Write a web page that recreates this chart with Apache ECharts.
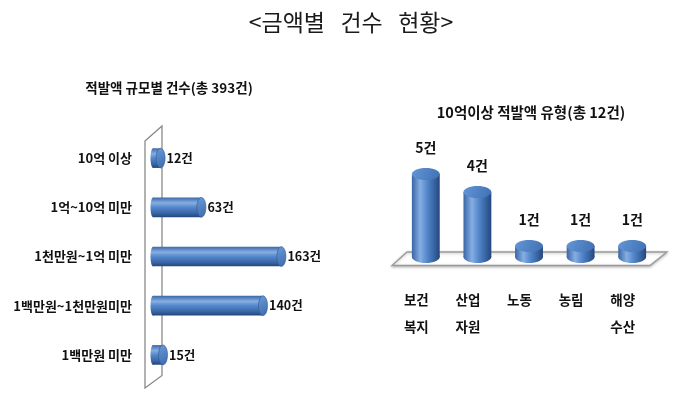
<!DOCTYPE html>
<html>
<head>
<meta charset="utf-8">
<script src="https://cdn.jsdelivr.net/npm/echarts@6/dist/echarts.min.js"></script>
<style>
  html, body { margin: 0; padding: 0; background: #fff; }
  #chart { width: 680px; height: 394px; }
</style>
</head>
<body>
<div id="chart"></div>
<script>
// ---- data ----
const mainTitle = '<금액별   건수   현황>';
const leftTitle = '적발액 규모별 건수(총 393건)';
const rightTitle = '10억이상 적발액 유형(총 12건)';
const unit = '건';
const leftCategories = ['10억 이상', '1억~10억 미만', '1천만원~1억 미만', '1백만원~1천만원미만', '1백만원 미만'];
const leftValues = [12, 63, 163, 140, 15];
const rightCategories = ['보건\n복지', '산업\n자원', '노동', '농림', '해양\n수산'];
const rightValues = [5, 4, 1, 1, 1];

// ---- layout ----
const FONT = '"Noto Sans CJK KR", "Noto Sans", sans-serif';
const G0 = { left: 151, top: 133.5, width: 160, height: 246 };
const G1 = { left: 400, top: 156, width: 258, height: 108 };

const chart = echarts.init(document.getElementById('chart'), null, { renderer: 'canvas' });

function hBodyGrad() {
  return new echarts.graphic.LinearGradient(0, 0, 0, 1, [
    { offset: 0, color: '#3b68aa' },
    { offset: 0.28, color: '#86afe2' },
    { offset: 0.5, color: '#5587cd' },
    { offset: 0.8, color: '#3866a6' },
    { offset: 1, color: '#23457a' }
  ]);
}
function vBodyGrad() {
  return new echarts.graphic.LinearGradient(0, 0, 1, 0, [
    { offset: 0, color: '#3a66a6' },
    { offset: 0.3, color: '#86aee2' },
    { offset: 0.55, color: '#5386cb' },
    { offset: 0.85, color: '#325d9a' },
    { offset: 1, color: '#24467a' }
  ]);
}

const leftData = leftValues.map((v, i) => [v, i]);
const rightData = rightValues.map((v, i) => [i, v]);

const base1 = G1.top + G1.height;
const wallPts = [
  [G0.left - 6, G0.top + 7.5],
  [G0.left + 11, G0.top - 7.5],
  [G0.left + 11, G0.top + G0.height - 4],
  [G0.left - 6, G0.top + G0.height + 8.5]
];
const floorPts = [
  [G1.left + 7, base1 - 12],
  [G1.left + G1.width + 9, base1 - 12],
  [G1.left + G1.width - 8, base1 + 1.5],
  [G1.left - 8, base1 + 1.5]
];

chart.setOption({
  backgroundColor: '#ffffff',
  animation: false,
  textStyle: { fontFamily: FONT },
  graphic: [
    { type: 'text', x: 351, y: 22, z: 10,
      style: { text: mainTitle, fill: '#1a1a1a', font: 'normal 23px ' + FONT, align: 'center', verticalAlign: 'middle' } },
    { type: 'text', x: 169, y: 88, z: 10,
      style: { text: leftTitle, fill: '#111', font: 'bold 13.5px ' + FONT, align: 'center', verticalAlign: 'middle' } },
    { type: 'text', x: 531, y: 112.5, z: 10,
      style: { text: rightTitle, fill: '#111', font: 'bold 14.5px ' + FONT, align: 'center', verticalAlign: 'middle' } },
    { type: 'polygon', z: 0, shape: { points: wallPts },
      style: { fill: '#ffffff', stroke: '#8a8a8a', lineWidth: 1.3 } },
    { type: 'polygon', z: 0, shape: { points: floorPts },
      style: { fill: '#ffffff', stroke: '#9a9a9a', lineWidth: 1.3, shadowBlur: 3, shadowColor: 'rgba(0,0,0,0.25)', shadowOffsetY: 1 } }
  ],
  grid: [
    { left: G0.left, top: G0.top, width: G0.width, height: G0.height },
    { left: G1.left, top: G1.top, width: G1.width, height: G1.height }
  ],
  xAxis: [
    { gridIndex: 0, type: 'value', min: 0, max: 200, show: false },
    { gridIndex: 1, type: 'category', data: rightCategories,
      axisLine: { show: false }, axisTick: { show: false },
      axisLabel: { margin: 22, fontSize: 13.5, fontWeight: 'bold', color: '#111', lineHeight: 27,
        fontFamily: FONT, padding: [0, 19, 0, 0] } }
  ],
  yAxis: [
    { gridIndex: 0, type: 'category', data: leftCategories, inverse: true,
      axisLine: { show: false }, axisTick: { show: false },
      axisLabel: { margin: 19, fontSize: 13, fontWeight: 'bold', color: '#111', fontFamily: FONT } },
    { gridIndex: 1, type: 'value', min: 0, max: 6, show: false }
  ],
  series: [
    {
      type: 'custom', xAxisIndex: 0, yAxisIndex: 0, z: 2,
      data: leftData,
      renderItem: function (params, api) {
        const v = api.value(0), idx = api.value(1);
        const s = api.coord([0, idx]);
        const e = api.coord([v, idx]);
        const h = api.size([0, 1])[1] * 0.4;
        const cy = s[1];
        const rx = 4.5;
        return {
          type: 'group',
          children: [
            { type: 'ellipse', shape: { cx: s[0] + 2, cy: cy, rx: 2.5, ry: h / 2 }, style: { fill: hBodyGrad() } },
            { type: 'rect', shape: { x: s[0] + 2, y: cy - h / 2, width: Math.max(e[0] - s[0] - 2, 0), height: h },
              style: { fill: hBodyGrad() } },
            { type: 'ellipse', shape: { cx: e[0], cy: cy, rx: rx, ry: h / 2 },
              style: { fill: new echarts.graphic.LinearGradient(0, 0, 1, 1, [
                { offset: 0, color: '#6a9ad8' }, { offset: 1, color: '#3c6aab' }]),
                stroke: '#2f5990', lineWidth: 0.6 } },
            { type: 'text', x: e[0] + rx + 1.5, y: cy,
              style: { text: v + unit, fill: '#111', font: 'bold 12.5px ' + FONT, align: 'left', verticalAlign: 'middle' } }
          ]
        };
      }
    },
    {
      type: 'custom', xAxisIndex: 1, yAxisIndex: 1, z: 2,
      data: rightData,
      renderItem: function (params, api) {
        const idx = api.value(0), v = api.value(1);
        const t = api.coord([idx, v]);
        const b = api.coord([idx, 0]);
        const w = api.size([1, 0])[0] * 0.54;
        const ry = 6;
        const cx = t[0];
        const by = b[1] - 7;
        return {
          type: 'group',
          children: [
            { type: 'ellipse', shape: { cx: cx, cy: by, rx: w / 2, ry: ry }, style: { fill: vBodyGrad() } },
            { type: 'rect', shape: { x: cx - w / 2, y: t[1], width: w, height: Math.max(by - t[1], 0) },
              style: { fill: vBodyGrad() } },
            { type: 'ellipse', shape: { cx: cx, cy: t[1], rx: w / 2, ry: ry },
              style: { fill: new echarts.graphic.LinearGradient(0, 0, 1, 1, [
                { offset: 0, color: '#6496d6' }, { offset: 1, color: '#3f70b2' }]) } },
            { type: 'text', x: cx, y: t[1] - 26,
              style: { text: v + unit, fill: '#111', font: 'bold 14px ' + FONT, align: 'center', verticalAlign: 'middle' } }
          ]
        };
      }
    }
  ]
});
</script>
</body>
</html>
